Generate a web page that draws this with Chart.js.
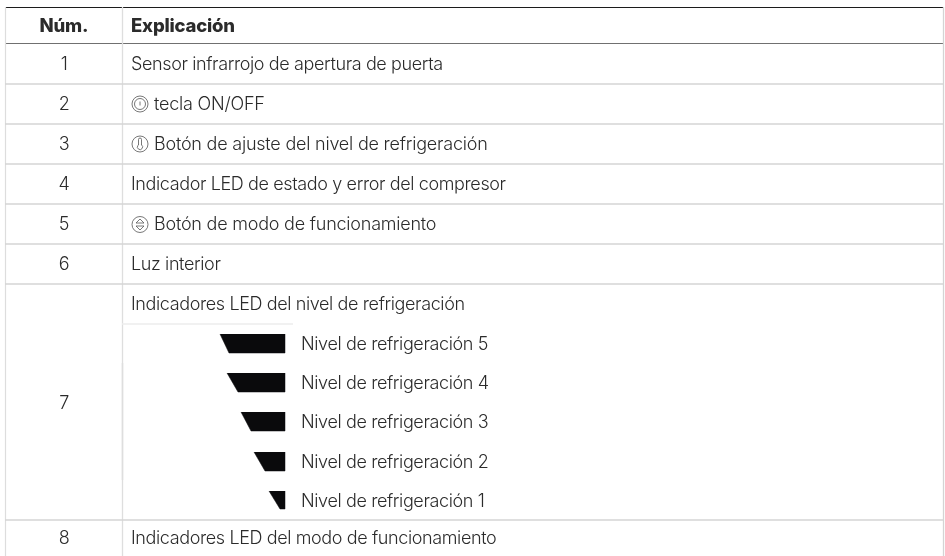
<!DOCTYPE html>
<html lang="es">
<head>
<meta charset="utf-8">
<title>Explicación</title>
<script src="https://cdn.jsdelivr.net/npm/chart.js@4"></script>
<style>
  html, body { margin: 0; padding: 0; background: #fff; }
  canvas { display: block; }
</style>
</head>
<body>
<canvas id="myChart" width="945" height="556"></canvas>
<script>
const headers = ["Núm.", "Explicación"];
const rowNumbers = ["1", "2", "3", "4", "5", "6", "7", "8"];
const rowTexts = [
  "Sensor infrarrojo de apertura de puerta",
  "tecla ON/OFF",
  "Botón de ajuste del nivel de refrigeración",
  "Indicador LED de estado y error del compresor",
  "Botón de modo de funcionamiento",
  "Luz interior",
  "Indicadores LED del nivel de refrigeración",
  "Indicadores LED del modo de funcionamiento",
];
const rowIcons = [null, "power", "thermo", null, "mode", null, null, null];
const levelLabels = [
  "Nivel de refrigeración 5",
  "Nivel de refrigeración 4",
  "Nivel de refrigeración 3",
  "Nivel de refrigeración 2",
  "Nivel de refrigeración 1",
];

// wedge edges
const wedgeTopLeft = [220, 227, 241, 254, 269];
const wedgeBottomLeft = [229, 238, 251, 265, 280];
const wedgeRight = [285, 285, 285, 285, 285];
const wedgeTop = [334, 373, 412, 452, 491];
const wedgeBottom = [353, 392, 431, 471, 509];

// table rules
const rowLines = [84, 124, 164, 204, 244, 284, 520];
const rowCentres = [65, 105, 145, 185, 225, 265, 305, 539];
const iconCentres = [0, 104, 144, 0, 224.5, 0, 0, 0];
const number7Centre = 404;

const INK = "#2b2b2b";
const FONT = "Inter";

const rule = (x1, y1, x2, y2, color, width) => ({
  data: [{ x: x1, y: y1 }, { x: x2, y: y2 }],
  showLine: true,
  borderColor: color,
  borderWidth: width,
  pointRadius: 0,
  fill: false,
});

const datasets = [];

rowLines.forEach((y) => datasets.push(rule(5, y, 943, y, "#d4d4d4", 1.3)));
datasets.push(rule(122, 324, 293, 324, "#ececec", 1.3));
datasets.push(rule(5.5, 7, 5.5, 556, "#dddddd", 1.2));
datasets.push(rule(122.5, 7, 122.5, 556, "#dedede", 1.3));
datasets.push(rule(122.5, 363, 122.5, 480, "#a8a8a8", 1.2));
datasets.push(rule(943.5, 7, 943.5, 556, "#d4d4d4", 1.3));
datasets.push(rule(5, 7.5, 943, 7.5, "#1c1c1c", 1));
datasets.push(rule(5, 43.5, 943, 43.5, "#707070", 1.2));

wedgeTopLeft.forEach((left, i) => {
  datasets.push({
    data: [
      { x: left, y: wedgeTop[i] },
      { x: wedgeBottomLeft[i], y: wedgeBottom[i] },
      { x: wedgeRight[i], y: wedgeBottom[i] },
      { x: wedgeRight[i], y: wedgeTop[i] },
    ],
    showLine: true,
    borderColor: "#0a0a0c",
    backgroundColor: "#0a0a0c",
    borderWidth: 0.5,
    borderJoinStyle: "round",
    pointRadius: 0,
    fill: { value: wedgeTop[i] },
  });
});

const iconDrawers = {
  power(ctx, x, y) {
    ctx.beginPath();
    ctx.arc(x, y, 8, 0, Math.PI * 2);
    ctx.moveTo(x + 5.5, y);
    ctx.arc(x, y, 5.5, 0, Math.PI * 2);
    ctx.moveTo(x, y - 2.5);
    ctx.lineTo(x, y + 1.5);
    ctx.stroke();
  },
  thermo(ctx, x, y) {
    ctx.beginPath();
    ctx.arc(x, y, 8, 0, Math.PI * 2);
    ctx.moveTo(x - 1.5, y + 1);
    ctx.lineTo(x - 1.5, y - 4.5);
    ctx.arc(x, y - 4.5, 1.5, Math.PI, 0);
    ctx.lineTo(x + 1.5, y + 1);
    ctx.arc(x, y + 3, 2.6, -Math.PI * 0.3, Math.PI * 1.3);
    ctx.closePath();
    ctx.stroke();
  },
  mode(ctx, x, y) {
    ctx.beginPath();
    ctx.arc(x, y, 8, 0, Math.PI * 2);
    ctx.moveTo(x - 4, y - 1.5);
    ctx.lineTo(x, y - 5.5);
    ctx.lineTo(x + 4, y - 1.5);
    ctx.closePath();
    ctx.moveTo(x - 4, y + 1.5);
    ctx.lineTo(x, y + 5.5);
    ctx.lineTo(x + 4, y + 1.5);
    ctx.closePath();
    ctx.stroke();
  },
};

// texts and icons, placed through the chart scales
const tableText = {
  id: "tableText",
  afterDatasetsDraw(chart) {
    const { ctx, scales } = chart;
    const px = (v) => scales.x.getPixelForValue(v);
    const py = (v) => scales.y.getPixelForValue(v);

    ctx.save();
    ctx.textBaseline = "middle";
    ctx.fillStyle = INK;

    ctx.font = `800 18.5px ${FONT}`;
    ctx.letterSpacing = "-0.2px";
    ctx.textAlign = "center";
    ctx.fillText(headers[0], px(64), py(26));
    ctx.textAlign = "left";
    ctx.fillText(headers[1], px(131), py(26));

    ctx.font = `300 18px ${FONT}`;
    rowNumbers.forEach((n, i) => {
      ctx.letterSpacing = "-0.38px";
      ctx.textAlign = "center";
      const y = n === "7" ? number7Centre : rowCentres[i];
      ctx.fillText(n, px(64), py(y));

      const icon = rowIcons[i];
      ctx.textAlign = "left";
      if (icon) {
        ctx.letterSpacing = "-0.22px";
        ctx.strokeStyle = "#555555";
        ctx.lineWidth = 0.8;
        iconDrawers[icon](ctx, px(140), py(iconCentres[i]));
      }
      ctx.fillText(rowTexts[i], px(icon ? 154 : 131), py(rowCentres[i]));
    });

    ctx.letterSpacing = "-0.38px";
    levelLabels.forEach((label, i) => {
      ctx.fillText(label, px(301), py((wedgeTop[i] + wedgeBottom[i]) / 2 + 1.5));
    });
    ctx.restore();
  },
};

new Chart(document.getElementById("myChart").getContext("2d"), {
  type: "scatter",
  data: { datasets },
  options: {
    responsive: false,
    animation: false,
    layout: { padding: 0 },
    plugins: { legend: { display: false }, tooltip: { enabled: false } },
    scales: {
      x: { type: "linear", min: 0, max: 945, display: false },
      y: { type: "linear", min: 0, max: 556, reverse: true, display: false },
    },
  },
  plugins: [tableText],
});
</script>
</body>
</html>
